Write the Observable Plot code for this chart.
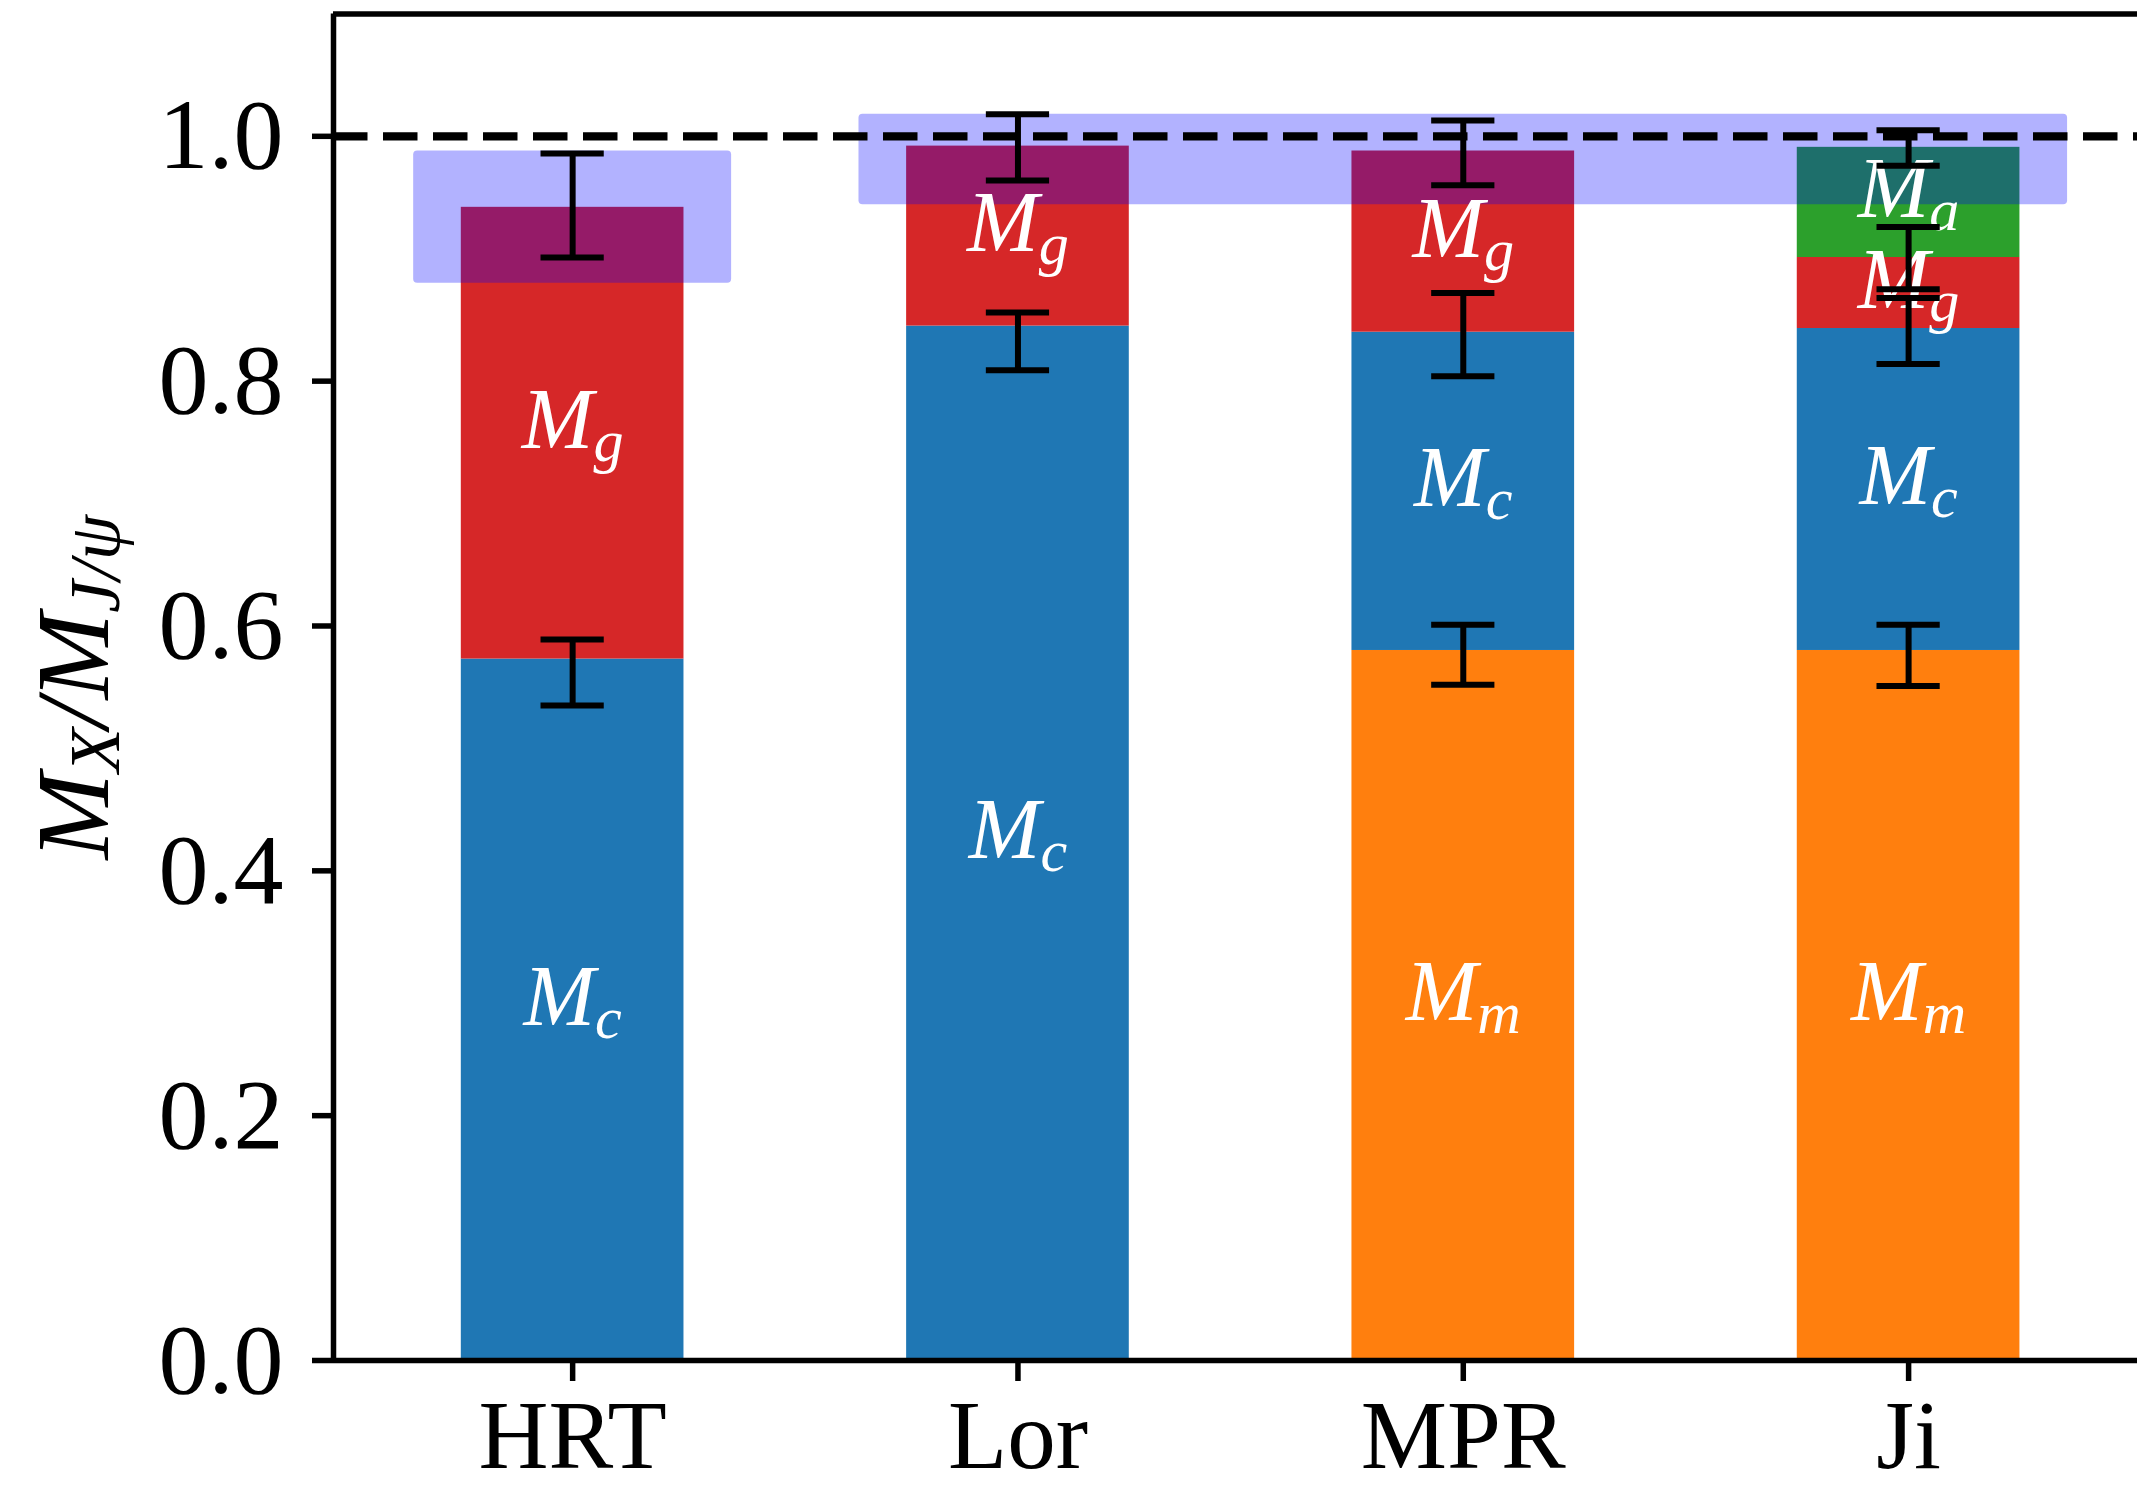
<!DOCTYPE html>
<html><head><meta charset="utf-8">
<script src="https://cdn.jsdelivr.net/npm/d3@7"></script>
<script src="https://cdn.jsdelivr.net/npm/@observablehq/plot@0.6"></script>
<style>html,body{margin:0;padding:0;background:#fff;} svg{display:block}</style>
</head><body><div id="chart"></div>
<script>
// ---- data ----
const models = ["HRT", "Lor", "MPR", "Ji"];
const components = ["Mm", "Mc", "Mg", "Ma"];
const subscripts = ["m", "c", "g", "a"];
const colors = ["#ff7f0e", "#1f77b4", "#d62728", "#2ca02c"];
const valMm = [0, 0, 0.580, 0.580];
const valMc = [0.573, 0.845, 0.260, 0.263];
const valMg = [0.369, 0.147, 0.148, 0.058];
const valMa = [0, 0, 0, 0.090];
const errModel = ["HRT", "HRT", "Lor", "Lor", "MPR", "MPR", "MPR", "Ji", "Ji", "Ji", "Ji"];
const errLow  = [0.535, 0.901, 0.809, 0.964, 0.552, 0.804, 0.960, 0.551, 0.814, 0.875, 0.976];
const errHigh = [0.589, 0.986, 0.856, 1.018, 0.601, 0.872, 1.013, 0.601, 0.868, 0.926, 1.005];
const bandFrom = ["HRT", "Lor"];
const bandTo   = ["HRT", "Ji"];
const bandLow  = [0.880, 0.944];
const bandHigh = [0.988, 1.018];
const refLine = [1.0];
const yTicks = [0, 0.2, 0.4, 0.6, 0.8, 1.0];
const yLabel = "M_X/M_{J/ψ}";

// ---- derived tables ----
const idx = m => models.indexOf(m);
const values = [valMm, valMc, valMg, valMa];
const segments = [];
models.forEach((m, i) => {
  let acc = 0;
  components.forEach((c, k) => {
    const v = values[k][i];
    if (v > 0) {
      segments.push({i, comp: c, y1: acc, y2: acc + v, label: "M_" + subscripts[k]});
      acc += v;
    }
  });
});
const errs = errModel.map((m, k) => ({i: idx(m), lo: errLow[k], hi: errHigh[k]}));
const bands = bandFrom.map((m, k) => ({a: idx(m), b: idx(bandTo[k]), lo: bandLow[k], hi: bandHigh[k]}));

// style constants
const barHalf = 0.25, bandHalf = 0.357, capHalf = 0.071;
const xDomain = [-0.537, 3.514], yDomain = [0, 1.1];
const FONT = "'Liberation Serif', 'Times New Roman', Times, serif";

const svg = Plot.plot({
  width: 2137, height: 1490,
  marginLeft: 333, marginRight: 0, marginTop: 13.4, marginBottom: 130,
  style: {fontFamily: FONT, background: "white", overflow: "visible"},
  x: {domain: xDomain, label: null},
  y: {domain: yDomain, label: null},
  color: {domain: components, range: colors},
  marks: [
    Plot.rectY(segments, {x1: d => d.i - barHalf, x2: d => d.i + barHalf, y1: "y1", y2: "y2", fill: "comp"}),
    Plot.rect(bands, {x1: d => d.a - bandHalf, x2: d => d.b + bandHalf, y1: "lo", y2: "hi", fill: "blue", fillOpacity: 0.3, rx: 4}),
    Plot.text(segments, {x: "i", y: d => (d.y1 + d.y2) / 2, text: "label", fill: "white", fontSize: 86, fontStyle: "italic", fontFamily: FONT, lineAnchor: "bottom", dy: 15}),
    Plot.ruleX(errs, {x: "i", y1: "lo", y2: "hi", stroke: "black", strokeWidth: 6}),
    Plot.ruleY(errs, {y: "lo", x1: d => d.i - capHalf, x2: d => d.i + capHalf, stroke: "black", strokeWidth: 6}),
    Plot.ruleY(errs, {y: "hi", x1: d => d.i - capHalf, x2: d => d.i + capHalf, stroke: "black", strokeWidth: 6}),
    Plot.ruleY(refLine, {stroke: "black", strokeWidth: 8.3, strokeDasharray: "34.5,15.5"}),
    Plot.ruleY([yDomain[0]], {stroke: "black", strokeWidth: 5.5}),
    Plot.ruleY([yDomain[1]], {stroke: "black", strokeWidth: 5.5}),
    Plot.ruleX([xDomain[0]], {stroke: "black", strokeWidth: 5.5}),
    Plot.axisY({ticks: yTicks, tickFormat: d3.format(".1f"), tickSize: 21, tickPadding: 29, fontSize: 100, strokeWidth: 5.5, label: null, fill: "black", fontFamily: FONT}),
    Plot.axisX({ticks: models.map((m, i) => i), tickFormat: i => models[i], tickSize: 21, tickPadding: 18, fontSize: 97, strokeWidth: 5.5, label: null, fill: "black", fontFamily: FONT}),
    Plot.text([yLabel], {frameAnchor: "left", text: d => d, rotate: -90, dx: -226, fontSize: 104, fontStyle: "italic", fontFamily: FONT, fill: "black", textAnchor: "middle", lineAnchor: "bottom"})
  ]
});

// turn "M_g" style strings into tspans with subscripts
function mathTspans(node, str, drop) {
  const parts = []; let i = 0, cur = "";
  while (i < str.length) {
    if (str[i] === "_") {
      if (cur) parts.push([cur, false]); cur = "";
      let sub;
      if (str[i + 1] === "{") { const j = str.indexOf("}", i); sub = str.slice(i + 2, j); i = j + 1; }
      else { sub = str[i + 1]; i += 2; }
      parts.push([sub, true]);
    } else { cur += str[i]; i++; }
  }
  if (cur) parts.push([cur, false]);
  const t = d3.select(node); t.text(null);
  let shifted = false;
  for (const [txt, isSub] of parts) {
    const ts = t.append("tspan").text(txt);
    if (isSub) { ts.attr("font-size", "70%"); if (!shifted) { ts.attr("dy", drop); shifted = true; } }
    else if (shifted) { ts.attr("dy", -drop); shifted = false; }
  }
}
d3.select(svg).selectAll("text").each(function () {
  const str = this.textContent;
  if (str.includes("_")) mathTspans(this, str, str.includes("/") ? 11 : 13);
});

document.getElementById("chart").appendChild(svg);
</script>
</body></html>
